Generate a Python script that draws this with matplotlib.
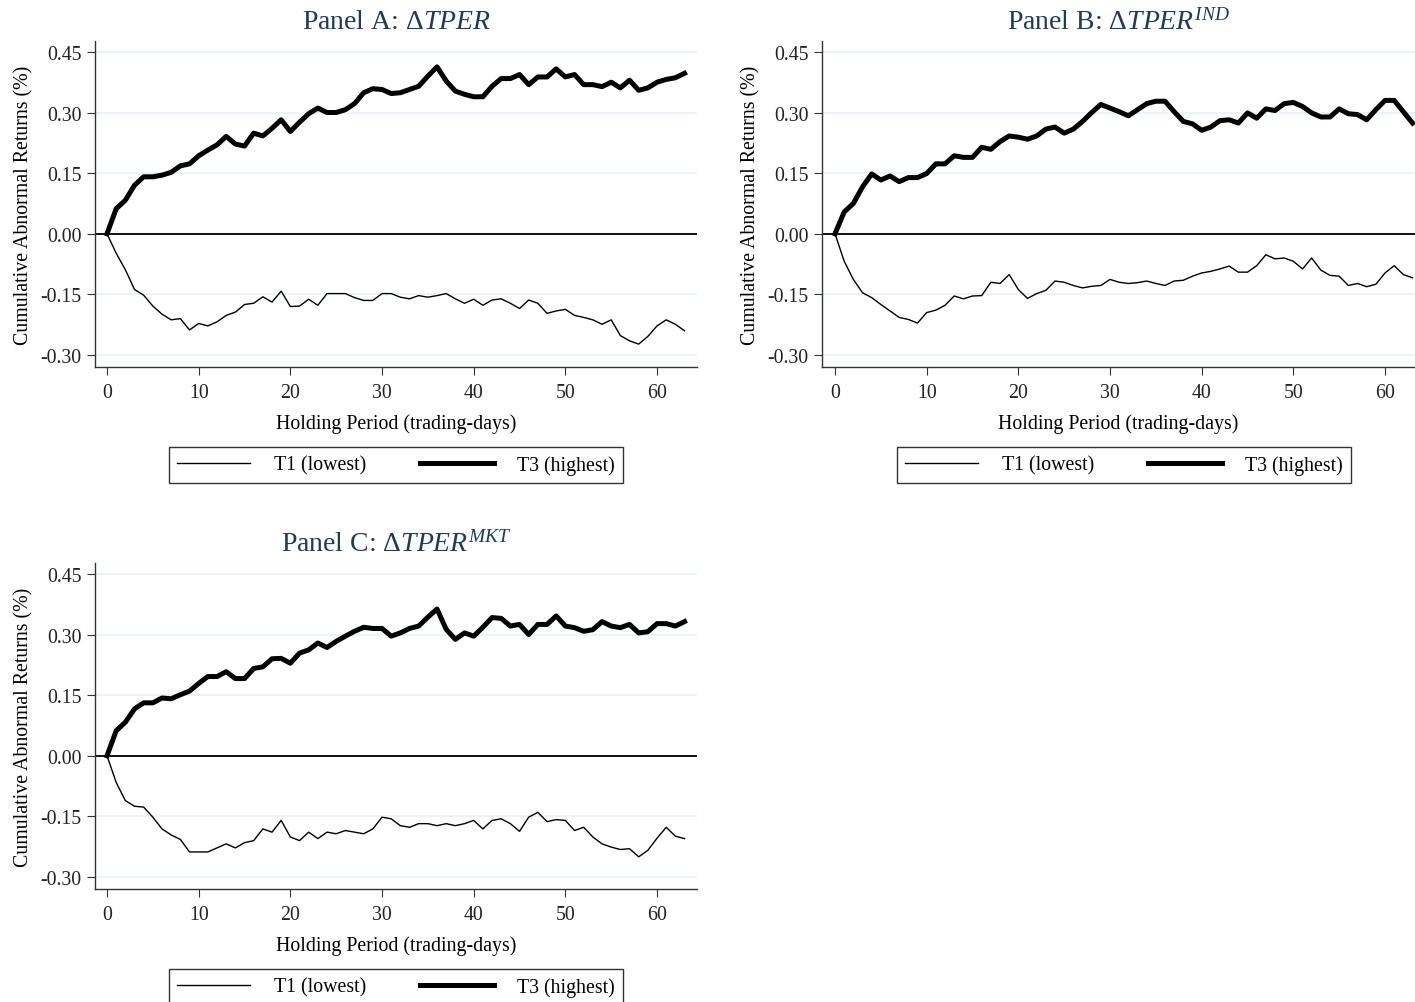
import numpy as np
import matplotlib
matplotlib.use("Agg")
import matplotlib.pyplot as plt

plt.rcParams['font.family'] = ['Liberation Serif', 'DejaVu Serif']
plt.rcParams['mathtext.fontset'] = 'custom'
plt.rcParams['mathtext.rm'] = 'Liberation Serif'
plt.rcParams['mathtext.it'] = 'Liberation Serif:italic'

days = np.arange(64)

# Panel A: dTPER
a_t1 = [0, -0.048, -0.089, -0.138, -0.152, -0.179, -0.199, -0.213, -0.210, -0.238,
        -0.222, -0.228, -0.218, -0.202, -0.194, -0.175, -0.172, -0.156, -0.169, -0.142,
        -0.180, -0.179, -0.162, -0.177, -0.148, -0.148, -0.148, -0.158, -0.165, -0.165,
        -0.148, -0.148, -0.157, -0.161, -0.153, -0.157, -0.153, -0.148, -0.161, -0.172,
        -0.162, -0.177, -0.164, -0.161, -0.172, -0.185, -0.164, -0.172, -0.197, -0.191,
        -0.187, -0.202, -0.207, -0.213, -0.224, -0.213, -0.252, -0.265, -0.273, -0.254,
        -0.228, -0.213, -0.224, -0.240]
a_t3 = [0, 0.062, 0.083, 0.120, 0.141, 0.141, 0.145, 0.152, 0.168, 0.173,
        0.193, 0.207, 0.220, 0.241, 0.222, 0.217, 0.249, 0.242, 0.261, 0.282,
        0.253, 0.276, 0.297, 0.311, 0.300, 0.300, 0.307, 0.322, 0.349, 0.359,
        0.357, 0.347, 0.349, 0.357, 0.365, 0.390, 0.413, 0.378, 0.353, 0.345,
        0.339, 0.339, 0.365, 0.384, 0.384, 0.394, 0.369, 0.388, 0.388, 0.408,
        0.388, 0.394, 0.369, 0.369, 0.364, 0.375, 0.361, 0.380, 0.355, 0.361,
        0.375, 0.382, 0.386, 0.397]

# Panel B: dTPER^IND
b_t1 = [0, -0.068, -0.113, -0.146, -0.158, -0.175, -0.191, -0.207, -0.212, -0.221,
        -0.195, -0.189, -0.177, -0.154, -0.161, -0.154, -0.153, -0.120, -0.123, -0.101,
        -0.138, -0.160, -0.148, -0.140, -0.117, -0.120, -0.128, -0.134, -0.130, -0.128,
        -0.113, -0.120, -0.123, -0.121, -0.117, -0.123, -0.128, -0.117, -0.115, -0.105,
        -0.097, -0.093, -0.087, -0.080, -0.095, -0.095, -0.079, -0.052, -0.062, -0.060,
        -0.068, -0.087, -0.060, -0.090, -0.103, -0.105, -0.128, -0.123, -0.131, -0.125,
        -0.097, -0.079, -0.101, -0.109]
b_t3 = [0, 0.054, 0.075, 0.116, 0.148, 0.133, 0.143, 0.129, 0.139, 0.139,
        0.149, 0.173, 0.173, 0.193, 0.189, 0.189, 0.214, 0.209, 0.228, 0.242,
        0.239, 0.234, 0.242, 0.259, 0.264, 0.249, 0.259, 0.278, 0.300, 0.320,
        0.311, 0.302, 0.292, 0.307, 0.322, 0.328, 0.328, 0.302, 0.278, 0.272,
        0.256, 0.264, 0.280, 0.282, 0.274, 0.299, 0.286, 0.309, 0.305, 0.322,
        0.325, 0.315, 0.299, 0.289, 0.289, 0.309, 0.297, 0.295, 0.282, 0.307,
        0.330, 0.330, 0.302, 0.274]

# Panel C: dTPER^MKT
c_t1 = [0, -0.066, -0.111, -0.125, -0.127, -0.152, -0.181, -0.196, -0.207, -0.238,
        -0.238, -0.238, -0.228, -0.218, -0.228, -0.215, -0.210, -0.181, -0.189, -0.160,
        -0.201, -0.210, -0.189, -0.205, -0.189, -0.193, -0.185, -0.189, -0.193, -0.181,
        -0.152, -0.156, -0.173, -0.177, -0.168, -0.168, -0.173, -0.168, -0.173, -0.168,
        -0.160, -0.181, -0.160, -0.156, -0.168, -0.187, -0.152, -0.140, -0.163, -0.158,
        -0.160, -0.185, -0.177, -0.201, -0.218, -0.226, -0.232, -0.230, -0.250, -0.234,
        -0.204, -0.177, -0.199, -0.205]
c_t3 = [0, 0.062, 0.083, 0.116, 0.131, 0.131, 0.143, 0.141, 0.151, 0.160,
        0.179, 0.196, 0.196, 0.208, 0.191, 0.191, 0.216, 0.220, 0.240, 0.241,
        0.229, 0.254, 0.262, 0.279, 0.268, 0.283, 0.296, 0.308, 0.318, 0.315,
        0.315, 0.296, 0.304, 0.315, 0.321, 0.343, 0.363, 0.313, 0.288, 0.304,
        0.296, 0.318, 0.342, 0.340, 0.321, 0.325, 0.300, 0.325, 0.325, 0.346,
        0.321, 0.317, 0.308, 0.312, 0.332, 0.321, 0.317, 0.325, 0.304, 0.307,
        0.327, 0.327, 0.321, 0.332]

titles = [r"Panel A: $\Delta\mathit{TPER}$",
          r"Panel B: $\Delta\mathit{TPER}^{\mathit{IND}}$",
          r"Panel C: $\Delta\mathit{TPER}^{\mathit{MKT}}$"]
yticks = [0.45, 0.30, 0.15, 0.00, -0.15, -0.30]
xticks = [0, 10, 20, 30, 40, 50, 60]

W, H = 1415, 1003
fig = plt.figure(figsize=(W / 100, H / 100), dpi=100)


def box(l, r, t, b):
    return [l / W, 1 - b / H, (r - l) / W, (b - t) / H]


panels = [
    (box(95, 697, 42, 368), (-1.31, 64.36), (a_t1, a_t3), titles[0], 396),
    (box(822, 1415, 42, 368), (-1.42, 63.27), (b_t1, b_t3), titles[1], 1124),
    (box(95, 697, 564, 890), (-1.31, 64.36), (c_t1, c_t3), titles[2], 396),
]

fs = 14.3
for rect, xl, (t1, t3), title, legx in panels:
    ax = fig.add_axes(rect)
    ax.plot(days, t1, color='black', lw=1.0, label='T1 (lowest)')
    ax.plot(days, t3, color='black', lw=3.6, label='T3 (highest)',
            solid_joinstyle='round')
    ax.axhline(0, color='black', lw=1.3, zorder=1)
    ax.set_xlim(*xl)
    ax.set_ylim(-0.3297, 0.477)
    ax.set_yticks(yticks)
    ax.set_yticklabels(['%.2f' % v for v in yticks])
    ax.set_xticks(xticks)
    ax.grid(axis='y', color='#eaf0f2', lw=1.2)
    ax.set_axisbelow(True)
    for s in ['top', 'right']:
        ax.spines[s].set_visible(False)
    for s in ['left', 'bottom']:
        ax.spines[s].set_color('#333333')
        ax.spines[s].set_linewidth(1.0)
    ax.tick_params(labelsize=fs, length=6, color='#333333', labelcolor='#222222')
    ax.tick_params(axis='x', pad=5.5)
    ax.set_ylabel('Cumulative Abnormal Returns (%)', fontsize=fs, labelpad=5)
    ax.set_xlabel('Holding Period (trading-days)', fontsize=fs, labelpad=8)
    ax.set_title(title, fontsize=20, color='#1f3a5a', pad=9)
    pos = ax.get_position()
    leg = ax.legend(loc='center', ncol=2, fontsize=fs,
                    bbox_to_anchor=(legx / W, pos.y0 - 98 / H),
                    bbox_transform=fig.transFigure, frameon=True, fancybox=False,
                    handlelength=3.7, handletextpad=1.2, columnspacing=2.7,
                    borderpad=0.4)
    leg.get_frame().set_edgecolor('black')
    leg.get_frame().set_linewidth(1.0)

fig.savefig('out.png', dpi=100)
